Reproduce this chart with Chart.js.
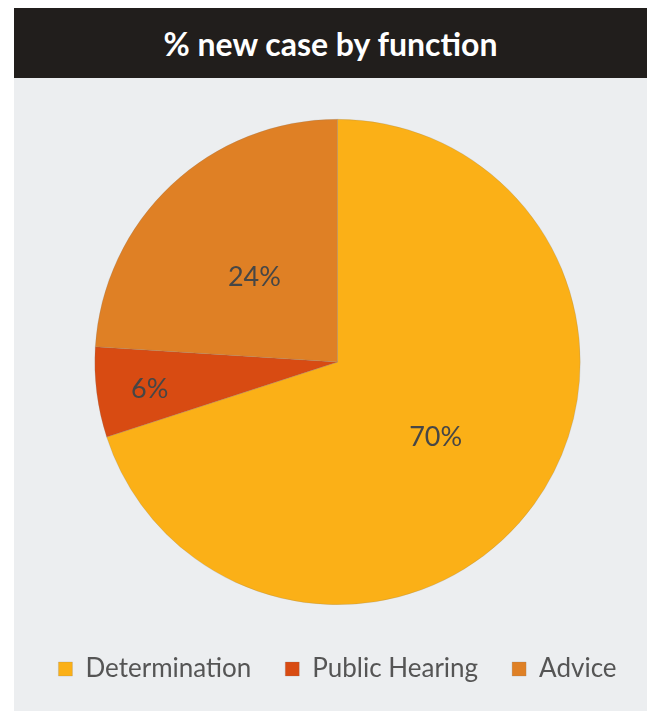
<!DOCTYPE html>
<html>
<head>
<meta charset="utf-8">
<script src="https://cdn.jsdelivr.net/npm/chart.js@4"></script>
<style>
  body { margin:0; background:#fff; width:660px; height:711px; overflow:hidden; }
  #head {
    position:absolute; left:14px; top:8px; width:633px; height:70px;
    background:#211e1c; color:#fff;
    font:bold 32px Lato, sans-serif;
    display:flex; align-items:center; justify-content:center;
  }
  #panel { position:absolute; left:14px; top:78px; width:633px; height:633px; background:#eceef0; overflow:hidden; }
  #pieChart { position:absolute; left:7px; top:0; }
</style>
</head>
<body>
<div id="head">% new case by function</div>
<div id="panel"><canvas id="pieChart" width="633" height="633"></canvas></div>
<script>
// data
let labels = ["Determination", "Public Hearing", "Advice"];
let shares = [70, 6, 24];
let colors = ["#fbb017", "#d84b12", "#df8025"];

// where each % label sits, as a part of the radius
let labelSpots = [0.5, 0.78, 0.5];


let sliceLabels = {
    id:"sliceLabels",
    afterDatasetsDraw(chart){
        let ctx = chart.ctx;
        let arcs = chart.getDatasetMeta(0).data;
        ctx.save();
        ctx.font = "27px Lato, sans-serif";
        ctx.fillStyle = "#464646";
        ctx.textAlign = "center";
        ctx.textBaseline = "middle";
        arcs.forEach((arc, i) => {
            let mid = (arc.startAngle + arc.endAngle) / 2;
            let r = arc.outerRadius * labelSpots[i];
            ctx.fillText(
                shares[i] + "%",
                arc.x + Math.cos(mid) * r,
                arc.y + Math.sin(mid) * r + 4
            );
        });
        ctx.restore();
    }
};


new Chart(
    document.getElementById("pieChart"),
    {
        type:"pie",
        data:{
            labels:labels,
            datasets:[{
                data:shares,
                backgroundColor:colors,
                borderColor:"rgba(120,120,120,0.35)",
                borderWidth:0.6
            }]
        },
        options:{
            responsive:false,
            animation:false,
            layout:{ padding:{ top:41, bottom:19 } },
            plugins:{
                tooltip:{ enabled:false },
                legend:{
                    position:"bottom",
                    title:{
                        display:true,
                        text:" ",
                        font:{ size:10 },
                        padding:{ top:5, bottom:0 }
                    },
                    labels:{
                        boxWidth:14,
                        boxHeight:14,
                        padding:34,
                        color:"#555",
                        font:{ family:"Lato, sans-serif", size:26 }
                    }
                }
            }
        },
        plugins:[sliceLabels]
    }
);
</script>
</body>
</html>
